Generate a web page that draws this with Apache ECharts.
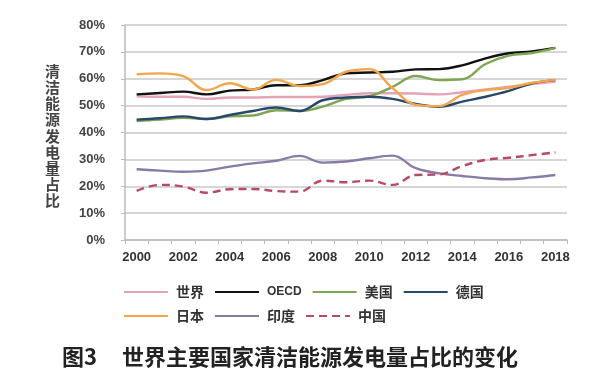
<!DOCTYPE html>
<html>
<head>
<meta charset="utf-8">
<script src="https://cdn.jsdelivr.net/npm/echarts@6/dist/echarts.min.js"></script>
<style>
html,body{margin:0;padding:0;background:#fff;}
#c{width:600px;height:380px;}
</style>
</head>
<body>
<div id="c"></div>
<script>
var years = ['2000','2001','2002','2003','2004','2005','2006','2007','2008','2009','2010','2011','2012','2013','2014','2015','2016','2017','2018'];
var world   = [53.5,53.3,53.3,52.5,53.0,53.0,53.2,53.2,53.3,54.0,54.6,54.6,54.5,54.2,55.0,56.0,57.0,58.0,59.0];
var oecd    = [54.2,54.7,55.2,54.2,55.6,56.0,57.6,57.6,59.5,62.0,62.3,62.6,63.5,63.6,65.0,67.6,69.5,70.2,71.5];
var usa     = [44.3,44.8,45.5,45.0,46.0,46.3,48.3,48.0,49.6,52.5,53.5,57.0,61.0,59.5,59.8,65.5,68.6,69.6,71.5];
var germany = [44.8,45.3,46.0,45.0,46.5,48.0,49.3,48.0,52.0,53.0,53.3,52.5,50.6,49.6,51.5,53.3,55.5,58.3,59.5];
var japan   = [61.7,62.0,61.0,55.8,58.3,56.0,59.6,57.3,58.0,62.6,63.6,56.5,50.3,49.8,54.0,55.8,56.6,58.5,59.6];
var india   = [26.3,25.8,25.4,25.8,27.3,28.5,29.5,31.3,28.8,29.2,30.4,31.4,26.7,24.8,23.8,23.0,22.6,23.3,24.2];
var china   = [18.3,20.5,19.9,17.6,18.9,19.0,18.2,18.0,22.1,21.5,22.1,20.5,24.2,24.4,27.5,29.8,30.6,31.6,32.6];
var seriesNames = ['世界','OECD','美国','德国','日本','印度','中国'];
var yTicks = [0,10,20,30,40,50,60,70,80];
var yTitle = '清洁能源发电量占比';
var captionNo = '图3';
var captionText = '世界主要国家清洁能源发电量占比的变化';

var colors = ['#e7a3b6','#111111','#7ea552','#28496b','#f2a54a','#8a7aa8','#b94a63'];
var dataSets = [world, oecd, usa, germany, japan, india, china];

var chart = echarts.init(document.getElementById('c'), null, {renderer:'canvas'});
var series = seriesNames.map(function(n, i){
  return {
    name: n, type: 'line', data: dataSets[i], smooth: 0.4, symbol: 'none',
    lineStyle: {color: colors[i], width: 2.4, type: i === 6 ? [8,5] : 'solid'},
    itemStyle: {color: colors[i]}
  };
});
chart.setOption({
  animation: false,
  backgroundColor: '#fff',
  color: colors,
  grid: {left: 125, right: 33, top: 25, bottom: 140},
  legend: {
    left: 118, top: 280, width: 420, itemGap: 10, itemWidth: 44, itemHeight: 10,
    data: seriesNames,
    itemStyle: {opacity: 0},
    lineStyle: {width: 2},
    formatter: function(n){ return /^[A-Z]+$/.test(n) ? '{lat|' + n + '}' : n; },
    textStyle: {fontSize: 14, color: '#333', fontFamily: 'Noto Sans CJK SC', fontWeight: 'bold', padding: [0,0,0,3],
      rich: {lat: {fontSize: 12, fontFamily: 'Liberation Sans', fontWeight: 'bold', color: '#333'}}}
  },
  xAxis: {
    type: 'category', data: years, boundaryGap: true,
    axisLine: {lineStyle: {color: '#bbbbbb', width: 1.5}},
    axisTick: {show: true, interval: 0, length: 4, lineStyle: {color: '#bbbbbb'}},
    axisLabel: {interval: 1, margin: 11, fontSize: 13, color: '#333', fontWeight: 'bold', fontFamily: 'Liberation Sans'},
    splitLine: {show: false}
  },
  yAxis: {
    type: 'value', min: 0, max: 80, interval: 10,
    axisLine: {show: true, lineStyle: {color: '#bbbbbb', width: 1.5}},
    axisTick: {show: true, length: 4, lineStyle: {color: '#bbbbbb'}},
    axisLabel: {formatter: '{value}%', margin: 20, fontSize: 13, color: '#444', fontWeight: 'bold', fontFamily: 'Liberation Sans'},
    splitLine: {lineStyle: {color: '#c9c9c9', width: 1.5}}
  },
  graphic: [
    {type: 'text', left: 45, top: 63, style: {text: yTitle.split('').join('\n'), fontSize: 15, lineHeight: 16.2, fill: '#444', fontWeight: 'bold', fontFamily: 'Noto Sans CJK SC'}},
    {type: 'text', left: 62, top: 346, style: {text: captionNo, fontSize: 22, fill: '#222', fontWeight: 'bold', fontFamily: 'Noto Sans CJK SC'}},
    {type: 'text', left: 122, top: 346, style: {text: captionText, fontSize: 22, fill: '#222', fontWeight: 'bold', fontFamily: 'Noto Sans CJK SC'}}
  ],
  series: series
});
</script>
</body>
</html>
